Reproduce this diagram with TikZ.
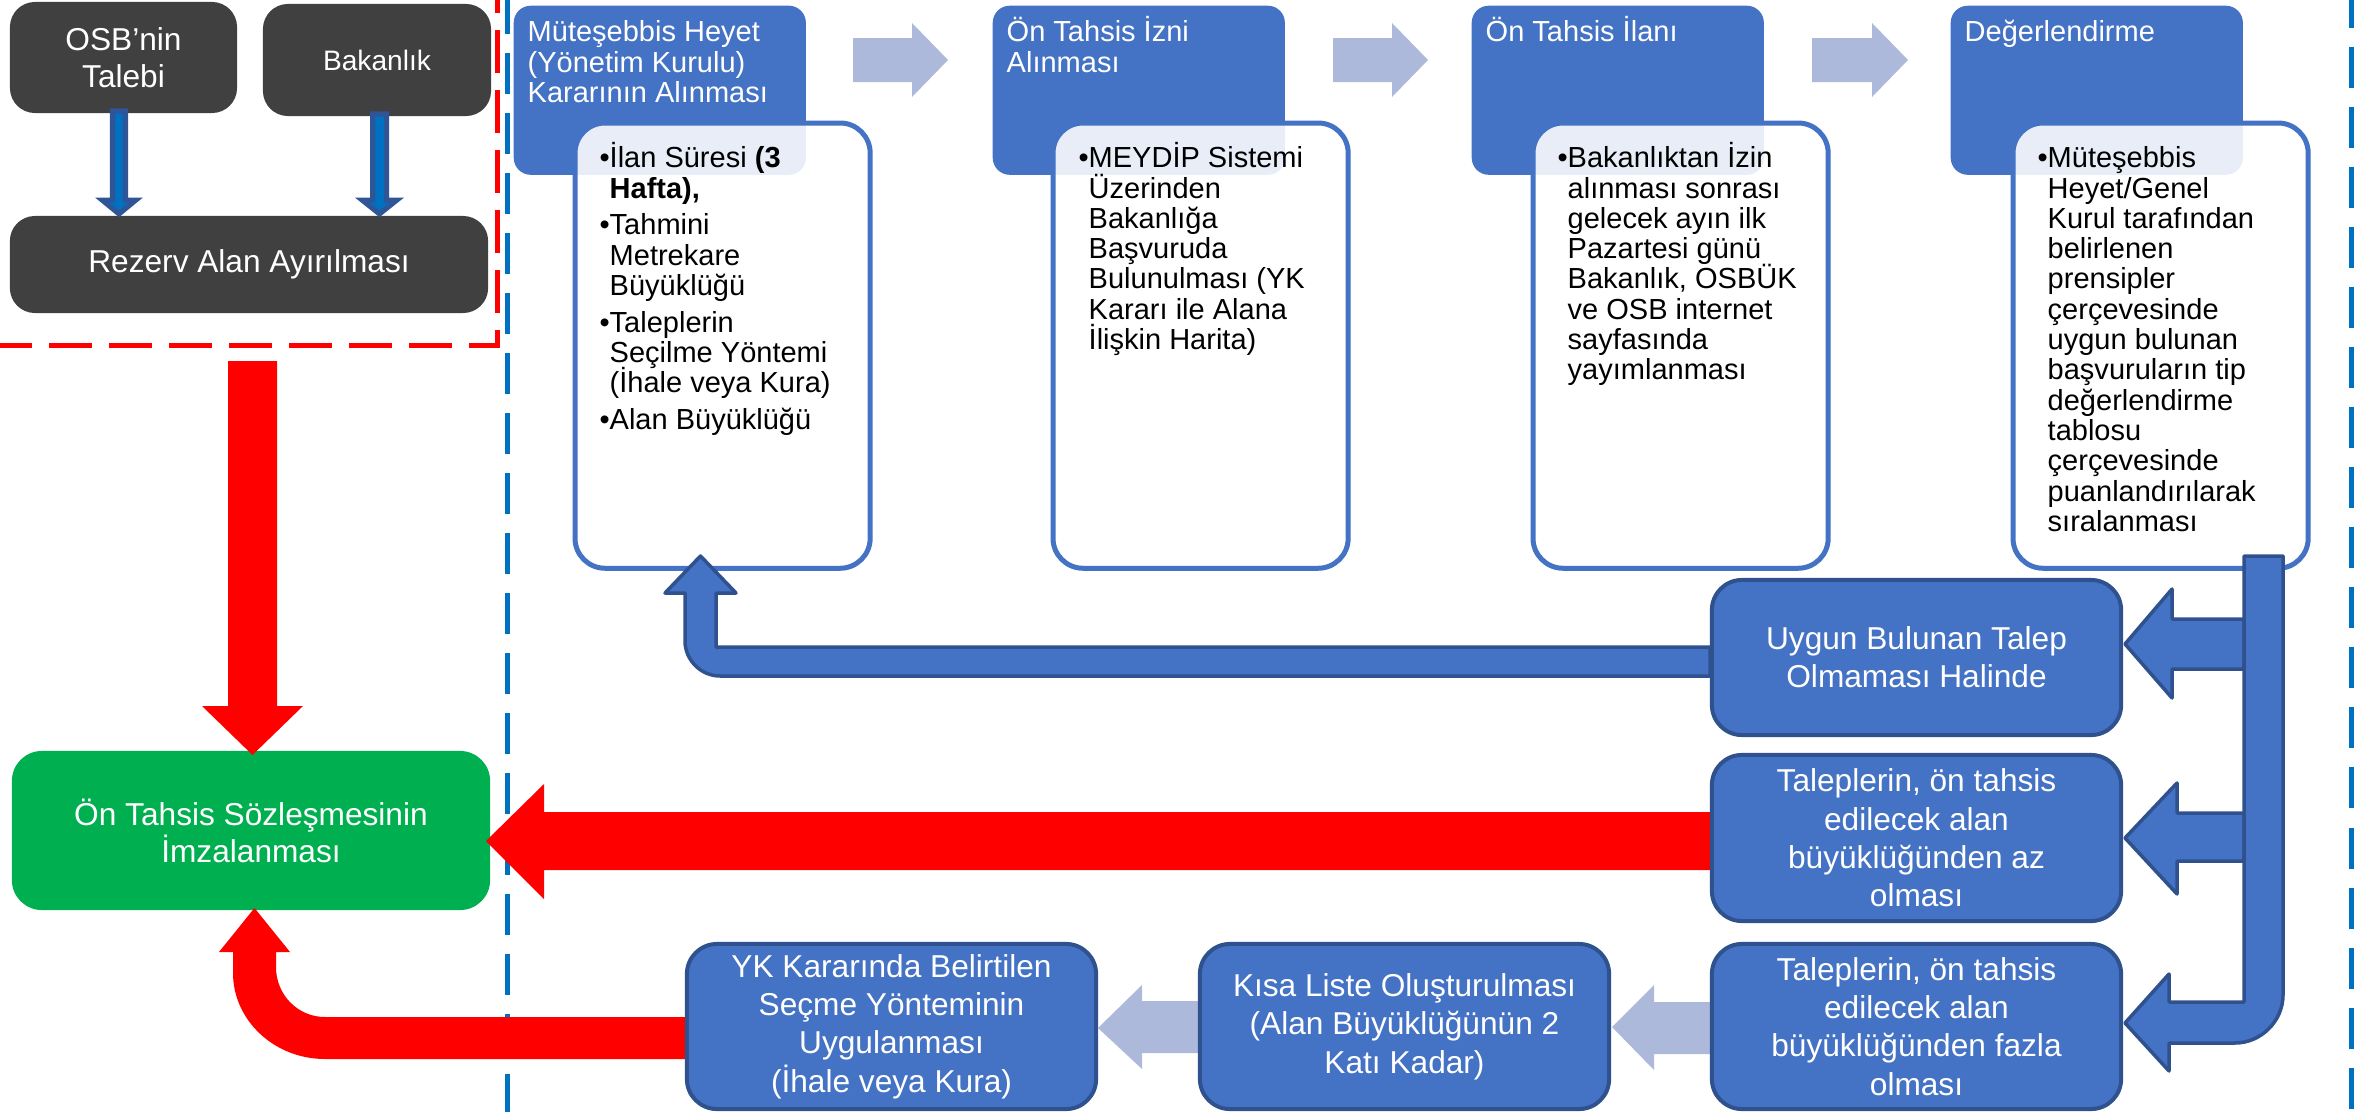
\documentclass[tikz,border=0pt]{standalone}
\usepackage{fontspec}
\setmainfont{Liberation Sans}
\definecolor{acc}{HTML}{4472C4}
\definecolor{accdark}{HTML}{2F528F}
\definecolor{lightarr}{RGB}{173,185,219}
\definecolor{dgray}{HTML}{404040}
\definecolor{okgreen}{HTML}{00B050}
\definecolor{dashblue}{HTML}{0070C0}
\definecolor{arrborder}{HTML}{2F5597}
\definecolor{pured}{HTML}{FF0000}
\newcommand\mysmart{\fontsize{8.25pt}{8.62pt}\selectfont\lineskiplimit=-100pt\relax}
\newcommand\myblue{\fontsize{9pt}{10.9pt}\selectfont}
\newcommand\myleft{\fontsize{9pt}{10.5pt}\selectfont}
\newcommand\mybak{\fontsize{8pt}{9.6pt}\selectfont}
\newcommand\bul{\llap{•}}
\newcommand\topstrut{\rule{0pt}{0.3cm}}
\begin{document}
\begin{tikzpicture}[x=0.01cm,y=-0.01cm,
  darkbox/.style={fill=dgray, rounded corners=0.25cm, text=white, align=center, inner sep=0pt},
  hdr/.style={fill=acc, rounded corners=0.17cm, anchor=north west, inner sep=0pt, minimum width=2.92cm, minimum height=1.69cm},
  wbox/.style={fill=white, fill opacity=0.88, draw=acc, line width=0.05cm, rounded corners=0.3cm, anchor=north west, inner sep=0pt, minimum width=2.95cm, minimum height=4.45cm},
  hdrtext/.style={text=white, font=\mysmart, align=left, inner sep=0pt, anchor=north west},
  btext/.style={text=black, font=\mysmart, align=left, inner sep=0pt, anchor=north west},
  bbox/.style={fill=acc, draw=accdark, line width=0.04cm, rounded corners=0.3cm, text=white, align=center, inner sep=0pt, font=\myblue, minimum width=4.09cm},
  gbox/.style={fill=okgreen, rounded corners=0.3cm, text=white, align=center, inner sep=0pt, font=\myleft},
  reddash/.style={draw=pured, line width=0.05cm, dash pattern=on 0.43cm off 0.17cm},
  bluedash/.style={draw=dashblue, line width=0.05cm, dash pattern=on 0.41cm off 0.19cm},
  darr/.style={fill=dashblue, draw=arrborder, line width=0.05cm},
  barrow/.style={fill=acc, draw=accdark, line width=0.035cm, line join=round},
  larrow/.style={fill=lightarr},
  rarrow/.style={fill=pured}]
\useasboundingbox (0,0) rectangle (2354,1112);

% dashed separators
\draw[reddash] (497,-30) -- (497,345) -- (-10,345);
\draw[bluedash] (507,-7) -- (507,1130);
\draw[bluedash] (2351,-13) -- (2351,1130);

% top step headers and detail boxes
\node[hdr] (h1) at (513,5) {};
\node[hdr] (h2) at (992,5) {};
\node[hdr] (h3) at (1471,5) {};
\node[hdr] (h4) at (1950,5) {};
\node[wbox] (w1) at (572.5,120.5) {};
\node[wbox] (w2) at (1050.5,120.5) {};
\node[wbox] (w3) at (1530.5,120.5) {};
\node[wbox] (w4) at (2010.5,120.5) {};

\node[hdrtext] (t1) at (527,11) {\topstrut Müteşebbis Heyet\\(Yönetim Kurulu)\\Kararının Alınması};
\node[hdrtext] (t2) at (1006,11) {\topstrut Ön Tahsis İzni\\Alınması};
\node[hdrtext] (t3) at (1485,11) {\topstrut Ön Tahsis İlanı};
\node[hdrtext] (t4) at (1964,11) {\topstrut Değerlendirme};

\node[btext] (b1) at (609,137) {\topstrut\bul İlan Süresi \textbf{(3}\\\textbf{Hafta),}\\[0.065cm]\bul Tahmini\\Metrekare\\Büyüklüğü\\[0.065cm]\bul Taleplerin\\Seçilme Yöntemi\\(İhale veya Kura)\\[0.065cm]\bul Alan Büyüklüğü};
\node[btext] (b2) at (1088,137) {\topstrut\bul MEYDİP Sistemi\\Üzerinden\\Bakanlığa\\Başvuruda\\Bulunulması (YK\\Kararı ile Alana\\İlişkin Harita)};
\node[btext] (b3) at (1567,137) {\topstrut\bul Bakanlıktan İzin\\alınması sonrası\\gelecek ayın ilk\\Pazartesi günü\\Bakanlık, OSBÜK\\ve OSB internet\\sayfasında\\yayımlanması};
\node[btext] (b4) at (2047,137) {\topstrut\bul Müteşebbis\\Heyet/Genel\\Kurul tarafından\\belirlenen\\prensipler\\çerçevesinde\\uygun bulunan\\başvuruların tip\\değerlendirme\\tablosu\\çerçevesinde\\puanlandırılarak\\sıralanması};

% light step arrows (top)
\fill[larrow] (853,38) -- (912,38) -- (912,23) -- (948,60) -- (912,97) -- (912,82) -- (853,82) -- cycle;
\fill[larrow] (1333,38) -- (1392,38) -- (1392,23) -- (1428,60) -- (1392,97) -- (1392,82) -- (1333,82) -- cycle;
\fill[larrow] (1812,38) -- (1872,38) -- (1872,23) -- (1908,60) -- (1872,97) -- (1872,82) -- (1812,82) -- cycle;

% left panel
\node[darkbox, font=\myleft, minimum width=2.27cm, minimum height=1.11cm] (osb) at (123.5,57.5) {OSB’nin\\Talebi};
\node[darkbox, font=\mybak, minimum width=2.28cm, minimum height=1.12cm] (bak) at (377,60) {Bakanlık};
\node[darkbox, font=\myleft, minimum width=4.78cm, minimum height=0.97cm] (rez) at (249,264.5) {Rezerv Alan Ayırılması};
\draw[darr] (112.5,111) -- (125.5,111) -- (125.5,200) -- (136,200) -- (119,214) -- (102,200) -- (112.5,200) -- cycle;
\draw[darr] (372.5,114) -- (386.5,114) -- (386.5,200) -- (397,200) -- (379.5,214) -- (362,200) -- (372.5,200) -- cycle;

\node[gbox, minimum width=4.78cm, minimum height=1.59cm] (imza) at (251,830.5) {Ön Tahsis Sözleşmesinin\\İmzalanması};

% red arrows
\fill[rarrow] (228,361) -- (277,361) -- (277,706) -- (303,706) -- (252.5,755) -- (202,706) -- (228,706) -- cycle;
\fill[rarrow] (1712,812) -- (544,812) -- (544,784) -- (486,841) -- (544,899) -- (544,870) -- (1712,870) -- cycle;
\fill[rarrow] (687,1017) -- (325,1017) .. controls (298,1017) and (276,995) .. (276,967) -- (276,952) -- (290,952) -- (254.5,908) -- (219,952) -- (233,952) -- (233,973) .. controls (233,1020) and (274,1059) .. (325,1059) -- (687,1059) -- cycle;

% light arrows (bottom)
\fill[larrow] (1712,1002) -- (1654,1002) -- (1654,985) -- (1612,1027) -- (1654,1070) -- (1654,1054) -- (1712,1054) -- cycle;
\fill[larrow] (1200,1001) -- (1142,1001) -- (1142,985) -- (1098,1028) -- (1142,1069) -- (1142,1053) -- (1200,1053) -- cycle;

% blue result boxes
\node[bbox, minimum height=1.55cm] (uygun) at (1916.5,657.5) {Uygun Bulunan Talep\\Olmaması Halinde};
\node[bbox, minimum height=1.66cm] (az) at (1916.5,838) {Taleplerin, ön tahsis\\edilecek alan\\büyüklüğünden az\\olması};
\node[bbox, minimum height=1.65cm] (fazla) at (1916.5,1026.5) {Taleplerin, ön tahsis\\edilecek alan\\büyüklüğünden fazla\\olması};
\node[bbox, minimum height=1.65cm] (kisa) at (1404.5,1026.5) {Kısa Liste Oluşturulması\\(Alan Büyüklüğünün 2\\Katı Kadar)};
\node[bbox, minimum height=1.65cm] (yk) at (891.5,1026.5) {YK Kararında Belirtilen\\Seçme Yönteminin\\Uygulanması\\(İhale veya Kura)};

% blue block arrows
\draw[barrow] (1710,647) -- (716,647) -- (716,593) -- (736,593) -- (700.5,556) -- (665,593) -- (685,593) -- (685,641) .. controls (685,660) and (701,676) .. (720,676) -- (1710,676) -- cycle;
\draw[barrow] (2244,619) -- (2172,619) -- (2172,589) -- (2125,644) -- (2172,698) -- (2172,669) -- (2244,669) -- cycle;
\draw[barrow] (2244,813) -- (2177,813) -- (2177,783) -- (2125,838) -- (2177,894) -- (2177,861) -- (2244,861) -- cycle;
\draw[barrow] (2244,556) -- (2283,556) -- (2283,995) .. controls (2283,1021) and (2261,1043) .. (2235,1043) -- (2169,1043) -- (2169,1071) -- (2125,1023) -- (2169,974) -- (2169,1002) -- (2244,1002) -- cycle;
\end{tikzpicture}
\end{document}
